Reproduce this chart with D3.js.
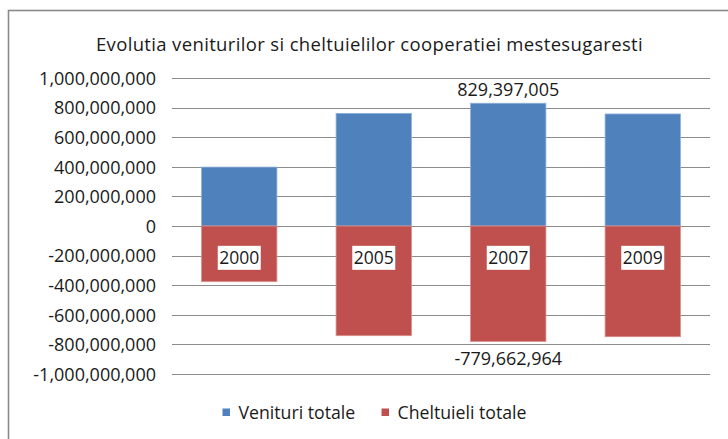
<!DOCTYPE html>
<html><head><meta charset="utf-8">
<script src="https://cdn.jsdelivr.net/npm/d3@7"></script>
<style>body{margin:0;background:#fff}svg{display:block}text{font-family:"Open Sans",sans-serif;fill:#1a1a1a}</style>
</head><body>
<script>
const categories = ["2000","2005","2007","2009"];
const venituri = [398000000, 761000000, 829397005, 757000000];
const cheltuieli = [-376000000, -741000000, -779662964, -748000000];
const seriesNames = ["Venituri totale","Cheltuieli totale"];
const seriesColors = ["#4F81BD","#C0504D"];
const yTicks = [1e9,8e8,6e8,4e8,2e8,0,-2e8,-4e8,-6e8,-8e8,-1e9];
const title = "Evolutia veniturilor si cheltuielilor cooperatiei mestesugaresti";

const W=728,H=439;
const svg=d3.select("body").append("svg").attr("width",W).attr("height",H);
svg.append("rect").attr("width",W).attr("height",H).attr("fill","#fff");
svg.append("rect").attr("x",8.5).attr("y",10.5).attr("width",W+20).attr("height",H+20)
  .attr("fill","none").attr("stroke","#8a8a8a").attr("stroke-width",1.6);

const x=d3.scaleBand().domain(categories).range([172,710]).paddingInner(0.44).paddingOuter(0.22);
const y=d3.scaleLinear().domain([-1e9,1e9]).range([374,78]);
const locale=d3.formatLocale({decimal:".",thousands:",",grouping:[3],currency:["",""],minus:"-"});
const fmt=locale.format(",");

svg.append("text").attr("x",369.5).attr("y",51).attr("text-anchor","middle")
  .style("font-size","18.5px").style("letter-spacing","0.35px").text(title);

svg.append("g").selectAll("line").data(yTicks).join("line")
  .attr("x1",172).attr("x2",710).attr("y1",d=>Math.round(y(d))+0.5).attr("y2",d=>Math.round(y(d))+0.5)
  .attr("stroke","#8c8c8c").attr("stroke-width",1);

const yAxis=d3.axisLeft(y).tickValues(yTicks).tickSize(0).tickPadding(0).tickFormat(d=>fmt(d));
const ga=svg.append("g").attr("transform","translate(156,0)").call(yAxis);
ga.select(".domain").remove();
ga.selectAll("text").style("font-size","18px").style("font-family","'Open Sans',sans-serif").attr("fill","#1a1a1a").attr("dy","0.35em");

svg.append("g").selectAll("rect").data(venituri).join("rect")
  .attr("x",(d,i)=>x(categories[i])).attr("width",x.bandwidth())
  .attr("y",d=>y(d)).attr("height",d=>y(0)-y(d))
  .attr("fill",seriesColors[0]).attr("stroke","#8eb0da").attr("stroke-width",0.8);
svg.append("g").selectAll("rect").data(cheltuieli).join("rect")
  .attr("x",(d,i)=>x(categories[i])).attr("width",x.bandwidth())
  .attr("y",y(0)).attr("height",d=>y(d)-y(0))
  .attr("fill",seriesColors[1]).attr("stroke","#d98e8c").attr("stroke-width",0.8);

const i7=categories.indexOf("2007");
svg.append("text").attr("x",x("2007")+x.bandwidth()/2).attr("y",y(venituri[i7])-7)
  .attr("text-anchor","middle").style("font-size","18px").text(fmt(venituri[i7]));
svg.append("text").attr("x",x("2007")+x.bandwidth()/2).attr("y",y(cheltuieli[i7])+24)
  .attr("text-anchor","middle").style("font-size","18px").text(fmt(cheltuieli[i7]));

const cg=svg.append("g").selectAll("g").data(categories).join("g")
  .attr("transform",d=>`translate(${x(d)+x.bandwidth()/2},${y(-2.15e8)})`);
cg.append("rect").attr("x",-21.5).attr("y",-12).attr("width",43).attr("height",24).attr("fill","#fff");
cg.append("text").attr("text-anchor","middle").attr("dy","0.36em").style("font-size","17.5px").text(d=>d);

const lg=svg.append("g");
const lx=[222.5,381.5];
seriesNames.forEach((n,i)=>{
  lg.append("rect").attr("x",lx[i]).attr("y",408.5).attr("width",7.5).attr("height",7.5).attr("fill",seriesColors[i]);
  lg.append("text").attr("x",lx[i]+16).attr("y",419).style("font-size","17.7px").text(n);
});
</script>
</body></html>
